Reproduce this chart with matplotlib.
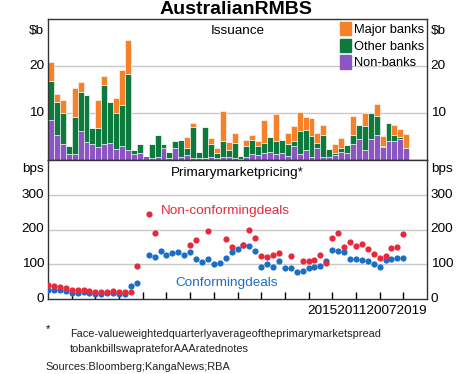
import numpy as np
import matplotlib
matplotlib.use("Agg")
import matplotlib.pyplot as plt
from matplotlib.patches import Patch

plt.rcParams['font.family'] = ['Liberation Sans', 'DejaVu Sans']

# quarterly issuance, $b, 2004Q1 - 2019Q1
non_banks = [8.5, 5.4, 3.3, 1.3, 1.3, 6.1, 3.9, 3.4, 2.8, 3.5, 3.7, 2.3, 3.0, 2.1,
             1.3, 1.5, 0.8, 0.4, 0.7, 2.5, 0.5, 2.5, 0.7, 1.0, 0.4, 0.5, 0.5, 0.7,
             0.5, 0.6, 0.7, 0.5, 0.3, 0.6, 1.3, 1.0, 1.5, 1.8, 1.2, 1.4, 0.8, 3.0,
             1.3, 2.2, 0.7, 2.6, 0.7, 0.7, 1.0, 1.8, 1.5, 3.5, 4.4, 2.1, 4.4, 5.4,
             2.8, 4.1, 4.1, 4.4, 2.5]
other_banks = [8.4, 6.9, 6.7, 1.7, 7.9, 8.4, 9.9, 3.4, 4.1, 12.5, 8.7, 7.6, 8.8, 16.2,
               0.8, 1.8, 0.0, 3.1, 4.7, 0.8, 1.3, 1.6, 3.5, 1.6, 6.6, 1.3, 6.5, 2.8,
               0.9, 3.5, 1.4, 3.2, 0.5, 2.4, 2.9, 2.0, 2.2, 3.0, 2.9, 2.8, 2.5, 1.1,
               4.8, 4.1, 4.4, 1.1, 4.6, 1.6, 0.5, 0.7, 1.7, 1.8, 3.1, 5.2, 5.5, 3.9,
               0.2, 3.8, 1.2, 0.5, 0.0]
major_banks = [3.9, 1.7, 2.8, 0.0, 6.1, 2.1, 0.0, 0.0, 5.8, 1.8, 0.0, 3.3, 7.4, 7.2,
               0.0, 0.0, 0.0, 0.0, 0.0, 0.0, 0.0, 0.0, 0.0, 2.2, 0.8, 0.0, 0.0, 1.2,
               1.2, 6.3, 1.8, 2.1, 0.0, 1.2, 1.2, 1.1, 4.8, 0.0, 5.6, 0.0, 2.5, 3.2,
               4.1, 2.9, 3.9, 2.1, 2.2, 0.0, 2.0, 2.2, 0.0, 4.1, 0.0, 2.6, 0.0, 2.7,
               2.1, 0.0, 2.1, 1.8, 3.1]

nan = np.nan
# primary market spreads, bps
conforming = [27, 25, 27, 24, 18, 18, 19, 16, 14, 15, 17, 16, 15, 14, 37, 45, nan,
              128, 122, 137, 128, 132, 135, 128, 135, 115, 106, 116, 102, 104, 117,
              135, 145, 155, 153, 137, 92, 102, 92, 108, 90, 88, 78, 82, 88, 92, 95,
              108, 142, 138, 135, 116, 116, 112, 108, 102, 93, 112, 116, 118, 117]
non_conforming = [41, 36, 35, 33, 25, 25, 27, 23, 20, 20, 21, 24, 21, 19, 20, 95, nan,
                  245, 190, nan, nan, nan, nan, nan, 155, 170, nan, 197, nan, nan, 172,
                  150, nan, 156, 200, 175, 123, 120, 127, 133, nan, 123, nan, 108, 108,
                  113, 127, 105, 175, 190, 150, 165, 152, 157, 143, 130, 118, 123, 148,
                  150, 187]

c_major = '#f5822a'
c_other = '#0b7a3c'
c_non = '#8b55c2'
c_red = '#e8283c'
c_blue = '#1a6ec4'
c_grid = '#c8c8c8'

W, H = 474, 374
fig = plt.figure(figsize=(W / 100, H / 100), dpi=100)
L, R = 48, 427
ax1 = fig.add_axes([L / W, (H - 160) / H, (R - L) / W, 141 / H])
ax2 = fig.add_axes([L / W, (H - 299) / H, (R - L) / W, 139 / H])

q = np.arange(len(non_banks))
nb = np.array(non_banks)
ob = np.array(other_banks)
mb = np.array(major_banks)
kw = dict(width=1.0, align='edge', edgecolor='white', linewidth=0.4)
ax1.bar(q, nb, color=c_non, label='Non-banks', **kw)
ax1.bar(q, ob, bottom=nb, color=c_other, label='Other banks', **kw)
ax1.bar(q, mb, bottom=nb + ob, color=c_major, label='Major banks', **kw)
ax1.set_ylim(0, 30)
ax1.set_xlim(0, 64)
for y in (10, 20):
    ax1.axhline(y, color=c_grid, lw=1, zorder=0)
ax1.set_xticks([])
ax1.set_yticks([])

fs = 9.7
for y in (10, 20):
    ax1.text(-0.01, y, str(y), transform=ax1.get_yaxis_transform(), ha='right',
             va='center', fontsize=fs)
    ax1.text(1.01, y, str(y), transform=ax1.get_yaxis_transform(), ha='left',
             va='center', fontsize=fs)
ax1.text(-0.01, 0.96, '$b', transform=ax1.transAxes, ha='right', va='top', fontsize=fs)
ax1.text(1.01, 0.96, '$b', transform=ax1.transAxes, ha='left', va='top', fontsize=fs)
ax1.text(0.5, 0.96, 'Issuance', transform=ax1.transAxes, ha='center', va='top', fontsize=fs)

handles = [Patch(color=c_major), Patch(color=c_other), Patch(color=c_non)]
ax1.legend(handles, ['Major banks', 'Other banks', 'Non-banks'], loc='upper right',
           bbox_to_anchor=(1.0, 1.0), frameon=False, fontsize=9.3, handlelength=0.85,
           handleheight=1.2, handletextpad=0.2, labelspacing=0.2, borderpad=0.15,
           borderaxespad=0.1)

# bottom panel
k = np.arange(len(conforming))
ax2.scatter(k, conforming, s=20, color=c_blue, zorder=3, linewidths=0)
ax2.scatter(k, non_conforming, s=20, color=c_red, zorder=4, linewidths=0)
ax2.set_ylim(0, 400)
ax2.set_xlim(0, 64)
for y in (100, 200, 300):
    ax2.axhline(y, color=c_grid, lw=1, zorder=0)
ax2.set_yticks([])
ax2.set_xticks(np.arange(4, 61, 4))
ax2.tick_params(axis='x', direction='in', length=5, width=1, labelbottom=False)
for y in (0, 100, 200, 300):
    ax2.text(-0.01, y, str(y), transform=ax2.get_yaxis_transform(), ha='right',
             va='center', fontsize=fs)
    ax2.text(1.01, y, str(y), transform=ax2.get_yaxis_transform(), ha='left',
             va='center', fontsize=fs)
ax2.text(-0.01, 0.98, 'bps', transform=ax2.transAxes, ha='right', va='top', fontsize=fs)
ax2.text(1.01, 0.98, 'bps', transform=ax2.transAxes, ha='left', va='top', fontsize=fs)
ax2.text(0.5, 0.95, 'Primarymarketpricing*', transform=ax2.transAxes, ha='center',
         va='top', fontsize=fs)
ax2.text(19, 252, 'Non-conformingdeals', color=c_red, fontsize=fs, va='center')
ax2.text(21.5, 45, 'Conformingdeals', color=c_blue, fontsize=fs, va='center')
ax2.text(1.0, -0.04, '2015201120072019', transform=ax2.transAxes, ha='right', va='top',
         fontsize=fs)

for ax in (ax1, ax2):
    for s in ax.spines.values():
        s.set_linewidth(1)
        s.set_color('#333333')

fig.text(236 / W, 1 - 10 / H, 'AustralianRMBS', ha='center', va='center',
         fontsize=14, fontweight='bold')
fig.text(46 / W, 1 - 329 / H, '*', fontsize=7.9, va='center')
fig.text(70 / W, 1 - 334 / H, 'Face-valueweightedquarterlyaverageoftheprimarymarketspread',
         fontsize=7.9, va='center', color='#222222')
fig.text(70 / W, 1 - 349 / H, 'tobankbillswaprateforAAAratednotes', fontsize=7.9,
         va='center', color='#222222')
fig.text(45 / W, 1 - 367 / H, 'Sources:Bloomberg;KangaNews;RBA', fontsize=7.9,
         va='center', color='#222222')

fig.savefig('out.png', dpi=100)
